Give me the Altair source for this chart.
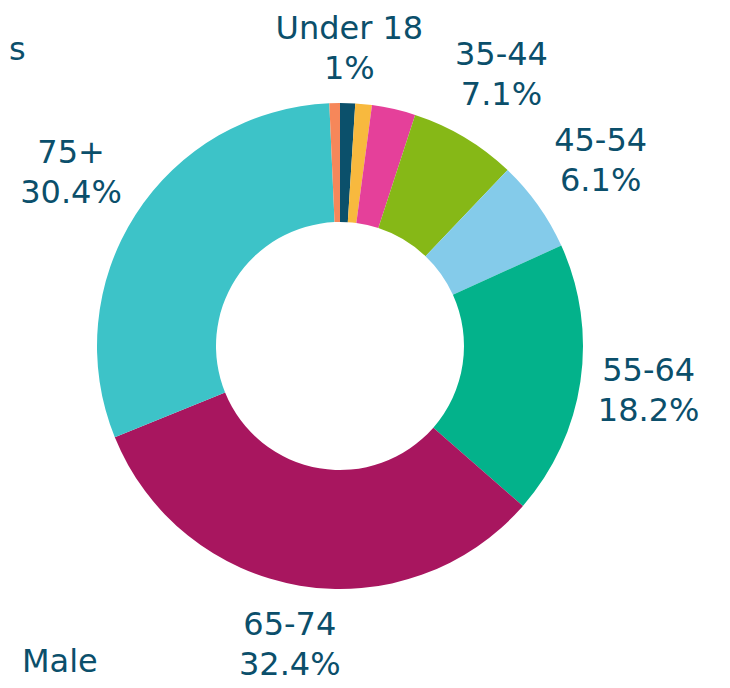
import altair as alt
import pandas as pd

groups = ["Under 18", "18-24", "25-34", "35-44", "45-54", "55-64", "65-74", "75+", "Unknown"]
shares = [1.0, 1.1, 2.9, 7.1, 6.1, 18.2, 32.4, 30.4, 0.7]
line1 = ["Under 18", "", "", "35-44", "45-54", "55-64", "65-74", "75+", ""]
line2 = ["1%", "", "", "7.1%", "6.1%", "18.2%", "32.4%", "30.4%", ""]
colors = ["#0b506b", "#f8b93e", "#e5409a", "#86b817", "#84cbea", "#03b28b",
          "#a8165f", "#3dc3c8", "#f6875a"]

df = pd.DataFrame({"group": groups, "share": shares, "l1": line1, "l2": line2,
                   "order": list(range(len(groups)))})

cx, cy = 340, 346
text_color = "#0b4f6b"
FONT = "DejaVu Sans"
FS = 32

arcs = alt.Chart(df).mark_arc(outerRadius=243, innerRadius=124).encode(
    theta=alt.Theta("share:Q", stack=True),
    order=alt.Order("order:Q"),
    x=alt.value(cx), y=alt.value(cy),
    color=alt.Color("group:N", scale=alt.Scale(domain=groups, range=colors), legend=None),
)

lab = alt.Chart(df).transform_window(
    cum="sum(share)", sort=[alt.SortField("order")], frame=[None, 0]
).transform_joinaggregate(total="sum(share)").transform_calculate(
    mid="2*PI*(datum.cum - datum.share/2)/datum.total",
    w="max(length(datum.l1), length(datum.l2)) * 10",
).transform_calculate(
    r="257 + abs(sin(datum.mid))*datum.w + abs(cos(datum.mid))*38"
)


def text_layer(field, dy):
    return lab.mark_text(fontSize=FS, font=FONT, color=text_color, dy=dy,
                         align="center", baseline="middle").encode(
        x=alt.value(cx), y=alt.value(cy),
        theta=alt.Theta("mid:Q", scale=None, stack=None),
        radius=alt.Radius("r:Q", scale=None),
        text=f"{field}:N",
    )


t1 = text_layer("l1", -20)
t2 = text_layer("l2", 20)

extra = pd.DataFrame({"t": ["s", "Male"], "px": [9, 22], "py": [50, 662]})
side = alt.Chart(extra).mark_text(fontSize=FS, font=FONT, color=text_color,
                                  align="left", baseline="middle").encode(
    x=alt.X("px:Q", scale=None), y=alt.Y("py:Q", scale=None), text="t:N")

chart = alt.layer(arcs, t1, t2, side).resolve_scale(theta="independent").properties(
    width=730, height=688, padding=0, autosize=alt.AutoSizeParams(type="none")
).configure_view(stroke=None)

chart.save("out.html", embed_options={"renderer": "svg", "actions": False})
